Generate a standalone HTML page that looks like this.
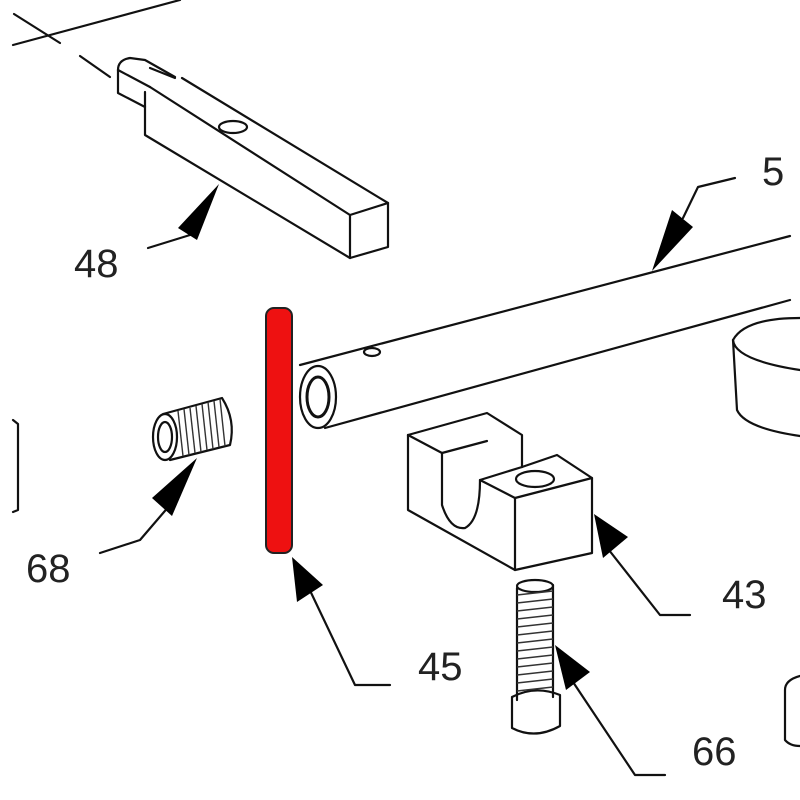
<!DOCTYPE html>
<html><head><meta charset="utf-8"><style>
html,body{margin:0;padding:0;background:#fff;}
svg{display:block;}
text{font-family:"Liberation Sans",sans-serif;font-size:40px;fill:#222;}
</style></head><body>
<svg width="800" height="800" viewBox="0 0 800 800" xmlns="http://www.w3.org/2000/svg">
<g fill="none" stroke="#111" stroke-width="2.2" stroke-linejoin="round" stroke-linecap="round">
<!-- top-left centerlines -->
<line x1="13" y1="45" x2="180" y2="0"/>
<line x1="14" y1="14" x2="60" y2="43"/>
<line x1="80" y1="56" x2="110" y2="77"/>
<line x1="150" y1="68" x2="175" y2="78"/>
<!-- part 48 -->
<path d="M118,70 Q118,60 130,58 L145,60 L175,77"/>
<line x1="182" y1="78" x2="388" y2="203"/>
<path d="M118,70 L118,93 L145,107"/>
<line x1="118" y1="70" x2="150" y2="87"/>
<path d="M145,92 L145,135 L350,258"/>
<line x1="150" y1="87" x2="350" y2="215"/>
<path d="M350,215 L388,203 L388,247 L350,258 Z"/>
<ellipse cx="233" cy="127" rx="14" ry="6"/>
<!-- rod 5x -->
<line x1="300" y1="365" x2="790" y2="236"/>
<line x1="325" y1="428" x2="790" y2="300"/>
<ellipse cx="318" cy="397" rx="18" ry="31"/>
<ellipse cx="318" cy="397" rx="11" ry="20" stroke-width="3"/>
<ellipse cx="372" cy="352" rx="8" ry="4"/>
<!-- cup right -->
<path d="M800,318 Q745,318 733,340 Q735,360 800,370"/>
<path d="M733,340 L737,410 Q745,428 800,436"/>
<!-- block 43 -->
<path d="M408,435 L487,413 L522,435 L522,467"/>
<path d="M408,435 L442,453 L487,441"/>
<path d="M408,435 L408,510 L515,570 L592,553 L592,478 L557,455 L522,467"/>
<path d="M442,453 L442,505 Q450,530 465,528 Q480,520 480,480 L515,498 L592,478"/>
<path d="M480,480 L522,467"/>
<line x1="515" y1="498" x2="515" y2="570"/>
<ellipse cx="535" cy="479" rx="19" ry="8"/>
<!-- screw 66 -->
<path d="M517,588 L517,700 M553,585 L553,697"/>
<ellipse cx="535" cy="586" rx="18" ry="6"/>
<path d="M512,697 L512,728 Q535,740 560,726 L560,695 Q535,685 512,697"/>
<!-- fitting 68 -->
<ellipse cx="165" cy="437" rx="12" ry="23"/>
<ellipse cx="165" cy="437" rx="7" ry="15"/>
<path d="M163,414 L222,398 Q236,420 230,445 L170,460"/>
<!-- left partial -->
<path d="M13,420 L18,424 L18,510 L13,512"/>
<!-- bottom-right partial -->
<path d="M800,676 Q785,680 785,690 L785,740 Q790,746 800,746"/>
<!-- leaders -->
<path d="M148,248 L190,235"/>
<path d="M683,218 L698,187 L735,178"/>
<path d="M100,553 L140,540 L170,505"/>
<path d="M305,580 L355,685 L390,685"/>
<path d="M605,545 L660,615 L690,615"/>
<path d="M565,670 L635,775 L665,775"/>
</g>
<!-- threads -->
<g stroke="#333" stroke-width="1.4">
<line x1="178" y1="411" x2="183" y2="456"/><line x1="184" y1="409" x2="189" y2="455"/>
<line x1="190" y1="408" x2="195" y2="453"/><line x1="196" y1="406" x2="201" y2="452"/>
<line x1="202" y1="404" x2="207" y2="450"/><line x1="208" y1="402" x2="213" y2="449"/>
<line x1="214" y1="401" x2="219" y2="447"/><line x1="220" y1="399" x2="225" y2="446"/>
<line x1="517" y1="595" x2="553" y2="591"/><line x1="517" y1="603" x2="553" y2="599"/>
<line x1="517" y1="611" x2="553" y2="607"/><line x1="517" y1="619" x2="553" y2="615"/>
<line x1="517" y1="627" x2="553" y2="623"/><line x1="517" y1="635" x2="553" y2="631"/>
<line x1="517" y1="643" x2="553" y2="639"/><line x1="517" y1="651" x2="553" y2="647"/>
<line x1="517" y1="659" x2="553" y2="655"/><line x1="517" y1="667" x2="553" y2="663"/>
<line x1="517" y1="675" x2="553" y2="671"/><line x1="517" y1="683" x2="553" y2="679"/>
<line x1="517" y1="691" x2="553" y2="687"/>
</g>
<!-- red pin 45 -->
<rect x="266" y="308" width="26" height="245" rx="8" fill="#ee1111" stroke="#222" stroke-width="2"/>
<!-- arrowheads -->
<g fill="#000">
<polygon points="219,184 178,228 197,240"/>
<polygon points="652,271 672,210 693,227"/>
<polygon points="197,458 152,498 172,516"/>
<polygon points="292,557 297,602 323,585"/>
<polygon points="594,514 603,558 628,537"/>
<polygon points="555,645 566,690 590,672"/>
</g>
<text x="74" y="277">48</text>
<text x="762" y="185">5</text>
<text x="26" y="582">68</text>
<text x="418" y="680">45</text>
<text x="722" y="608">43</text>
<text x="692" y="765">66</text>
</svg>
</body></html>
